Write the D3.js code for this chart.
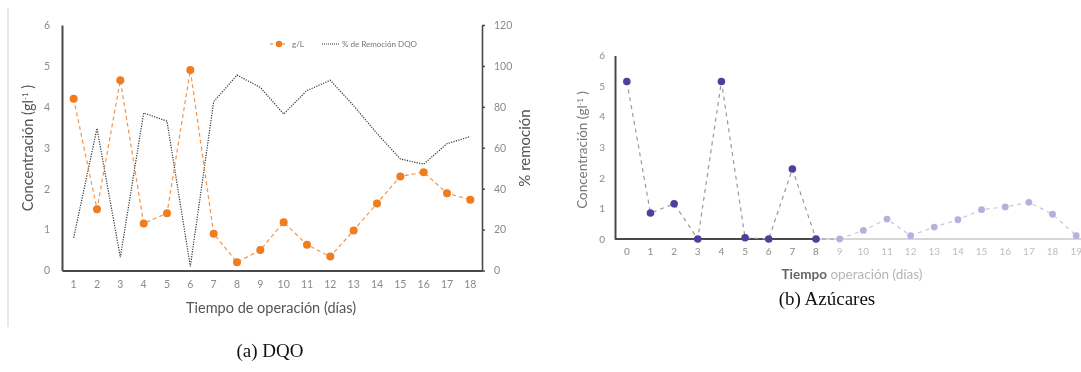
<!DOCTYPE html>
<html>
<head>
<meta charset="utf-8">
<script src="https://cdn.jsdelivr.net/npm/d3@7"></script>
<style>
  html, body { margin: 0; padding: 0; background: #fff; }
  svg { display: block; }
  .chart text { font-family: Lato, "Open Sans", sans-serif; }
  .caption { font-family: "Liberation Serif", "DejaVu Serif", serif; font-size: 19px; fill: #111; }
</style>
</head>
<body>
<svg id="fig" width="1081" height="372"></svg>
<script>
// (a) DQO: concentration (g/L) and % COD removal per day
const diasDQO = [1, 2, 3, 4, 5, 6, 7, 8, 9, 10, 11, 12, 13, 14, 15, 16, 17, 18];
const concDQO = [4.2, 1.5, 4.65, 1.15, 1.4, 4.9, 0.9, 0.2, 0.5, 1.18, 0.63, 0.34, 0.98, 1.64, 2.3, 2.4, 1.89, 1.73];
const remocionDQO = [16, 69.5, 6.5, 77, 73, 2, 82.5, 95.5, 89.5, 76.5, 88, 93, 80.5, 67, 54.5, 52, 62, 65.5];
const ticksConc = [0, 1, 2, 3, 4, 5, 6];
const ticksRemocion = [0, 20, 40, 60, 80, 100, 120];

// (b) Azúcares: sugar concentration per day
const diasAzucar = [0, 1, 2, 3, 4, 5, 6, 7, 8, 9, 10, 11, 12, 13, 14, 15, 16, 17, 18, 19];
const concAzucar = [5.15, 0.85, 1.15, 0, 5.15, 0.04, 0, 2.29, 0, 0, 0.28, 0.65, 0.11, 0.39, 0.63, 0.96, 1.05, 1.2, 0.81, 0.11];
const ticksAzucar = [0, 1, 2, 3, 4, 5, 6];

const fmtInt = d3.format("d");
const svg = d3.select("#fig");
const defs = svg.append("defs");
defs.append("filter").attr("id", "soft")
  .append("feGaussianBlur").attr("stdDeviation", 0.5);

// thin frame line at the left edge of the first panel
svg.append("line").attr("x1", 8).attr("x2", 8).attr("y1", 8).attr("y2", 327)
  .attr("stroke", "#d8d8d8").attr("stroke-width", 1.2);

/* ---------------- Panel (a) ---------------- */
const gA = svg.append("g").attr("class", "chart").attr("filter", "url(#soft)");
const xA = d3.scaleBand().domain(diasDQO).range([62, 482]);
const yA = d3.scaleLinear().domain([0, 6]).range([270.5, 25]);
const yA2 = d3.scaleLinear().domain([0, 120]).range([270.5, 25]);
const cxA = d => xA(d) + xA.bandwidth() / 2;

const axL = gA.append("g").attr("transform", "translate(62,0)")
  .call(d3.axisLeft(yA).tickValues(ticksConc).tickFormat(fmtInt).tickSize(0).tickPadding(12));
const axR = gA.append("g").attr("transform", "translate(482,0)")
  .call(d3.axisRight(yA2).tickValues(ticksRemocion).tickFormat(fmtInt).tickSize(3).tickSizeOuter(0).tickPadding(9));
const axB = gA.append("g").attr("transform", "translate(0,270.5)")
  .call(d3.axisBottom(xA).tickSize(0).tickPadding(10));
[axL, axR, axB].forEach(a => {
  a.selectAll(".domain").attr("stroke", "#4a4a4a").attr("stroke-width", 2);
  a.selectAll(".tick line").attr("stroke", "#4a4a4a").attr("stroke-width", 1.5);
  a.selectAll("text").attr("fill", "#8a8a8a").style("font-size", "10.5px");
});
axR.select(".domain").attr("stroke-width", 1.6);

// % removal (black dotted)
gA.append("path")
  .datum(diasDQO.map((d, i) => [cxA(d), yA2(remocionDQO[i])]))
  .attr("d", d3.line())
  .attr("fill", "none").attr("stroke", "#333").attr("stroke-width", 1.2)
  .attr("stroke-dasharray", "1.2,1.3");

// g/L (orange dashed with dots)
const orange = "#f07b1f";
gA.append("path")
  .datum(diasDQO.map((d, i) => [cxA(d), yA(concDQO[i])]))
  .attr("d", d3.line())
  .attr("fill", "none").attr("stroke", orange).attr("stroke-width", 1.2)
  .attr("stroke-dasharray", "4,3").attr("opacity", 0.8);
gA.selectAll("circle.dqo").data(diasDQO).join("circle")
  .attr("class", "dqo")
  .attr("cx", d => cxA(d)).attr("cy", (d, i) => yA(concDQO[i]))
  .attr("r", 4).attr("fill", orange);

// legend
const lg = gA.append("g").attr("transform", "translate(0,44)");
lg.append("line").attr("x1", 270).attr("x2", 288).attr("y1", 0).attr("y2", 0)
  .attr("stroke", orange).attr("stroke-width", 1.2).attr("stroke-dasharray", "3,3");
lg.append("circle").attr("cx", 279).attr("cy", 0).attr("r", 3.2).attr("fill", orange);
lg.append("text").attr("x", 292).attr("y", 2.8).text("g/L")
  .attr("fill", "#777").style("font-size", "8px");
lg.append("line").attr("x1", 322).attr("x2", 339).attr("y1", 0).attr("y2", 0)
  .attr("stroke", "#333").attr("stroke-width", 1).attr("stroke-dasharray", "1,1");
lg.append("text").attr("x", 342).attr("y", 2.8).text("% de Remoción DQO")
  .attr("fill", "#777").style("font-size", "8px");

// axis titles
const tl = gA.append("text").attr("transform", "translate(33,148) rotate(-90)")
  .attr("text-anchor", "middle").attr("fill", "#555").style("font-size", "14.5px");
tl.append("tspan").text("Concentración (gl");
tl.append("tspan").text("-1").attr("baseline-shift", "super").style("font-size", "8px");
tl.append("tspan").text(" )");
gA.append("text").attr("transform", "translate(530,148) rotate(-90)")
  .attr("text-anchor", "middle").attr("fill", "#555").style("font-size", "15px")
  .text("%  remoción");
gA.append("text").attr("x", 271).attr("y", 313).attr("text-anchor", "middle")
  .attr("fill", "#555").style("font-size", "14.5px").text("Tiempo de operación (días)");

/* ---------------- Panel (b) ---------------- */
const gB = svg.append("g").attr("class", "chart").attr("filter", "url(#soft)");
const xB = d3.scaleBand().domain(diasAzucar).range([615, 1088]);
const yB = d3.scaleLinear().domain([0, 6]).range([239, 55.5]);
const cxB = d => xB(d) + xB.bandwidth() / 2;
const lastDark = 8;
const darkPurple = "#4b3f9e", lightPurple = "#b7b0dc";

const axBL = gB.append("g").attr("transform", "translate(615,0)")
  .call(d3.axisLeft(yB).tickValues(ticksAzucar).tickFormat(fmtInt).tickSize(0).tickPadding(10));
axBL.select(".domain").attr("stroke", "#4a4a4a").attr("stroke-width", 2);
axBL.selectAll("text").attr("fill", "#8a8a8a").style("font-size", "10px");

const axBB = gB.append("g").attr("transform", "translate(0,239)")
  .call(d3.axisBottom(xB).tickSize(0).tickPadding(9));
axBB.select(".domain").remove();
axBB.selectAll("text").attr("fill", d => d <= lastDark ? "#8a8a8a" : "#bdbdbd")
  .style("font-size", "10px");
// baseline: dark through day 8, pale afterwards
gB.append("line").attr("x1", 615).attr("x2", cxB(lastDark)).attr("y1", 239).attr("y2", 239)
  .attr("stroke", "#4a4a4a").attr("stroke-width", 2);
gB.append("line").attr("x1", cxB(lastDark)).attr("x2", 1081).attr("y1", 239).attr("y2", 239)
  .attr("stroke", "#c9c9c9").attr("stroke-width", 1.5);

const ptsB = diasAzucar.map((d, i) => [cxB(d), yB(concAzucar[i])]);
gB.append("path").datum(ptsB.slice(0, lastDark + 2))
  .attr("d", d3.line()).attr("fill", "none").attr("stroke", "#9a9a9a")
  .attr("stroke-width", 1.2).attr("stroke-dasharray", "4,4");
gB.append("path").datum(ptsB.slice(lastDark + 1))
  .attr("d", d3.line()).attr("fill", "none").attr("stroke", "#c8c4de")
  .attr("stroke-width", 1.2).attr("stroke-dasharray", "4,4");
gB.selectAll("circle.az").data(diasAzucar).join("circle")
  .attr("class", "az")
  .attr("cx", d => cxB(d)).attr("cy", (d, i) => yB(concAzucar[i]))
  .attr("r", d => d <= lastDark ? 3.8 : 3.4)
  .attr("fill", d => d <= lastDark ? darkPurple : lightPurple);

const tb = gB.append("text").attr("transform", "translate(587,150) rotate(-90)")
  .attr("text-anchor", "middle").attr("fill", "#777").style("font-size", "13.5px");
tb.append("tspan").text("Concentración (gl");
tb.append("tspan").text("-1").attr("baseline-shift", "super").style("font-size", "7.5px");
tb.append("tspan").text(" )");
const xt = gB.append("text").attr("x", 852).attr("y", 279).attr("text-anchor", "middle")
  .style("font-size", "13.5px");
xt.append("tspan").text("Tiempo").attr("fill", "#666").style("font-weight", "bold");
xt.append("tspan").text(" operación (días)").attr("fill", "#b5b5b5");

/* ---------------- captions ---------------- */
svg.append("text").attr("class", "caption").attr("x", 270).attr("y", 357)
  .attr("text-anchor", "middle").text("(a) DQO");
svg.append("text").attr("class", "caption").attr("x", 827).attr("y", 305)
  .attr("text-anchor", "middle").text("(b) Azúcares");
</script>
</body>
</html>
